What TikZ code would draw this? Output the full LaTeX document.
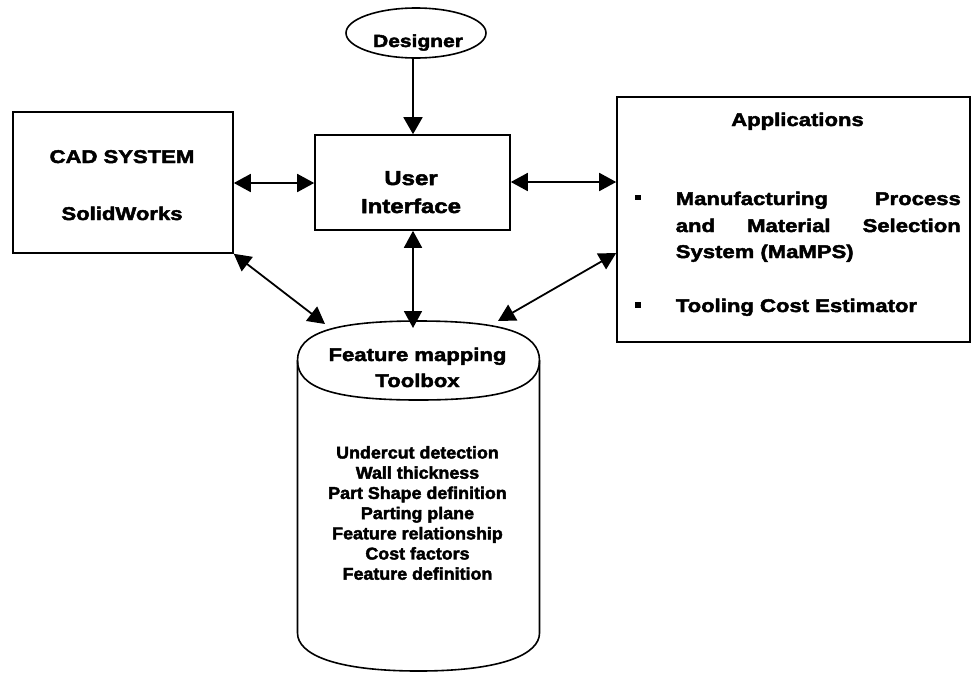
\documentclass[tikz,border=0pt]{standalone}
\usepackage{fontspec}
\newfontfamily\hv{Liberation Sans Bold}[FakeStretch=1.2,FakeBold=2.5]
\newfontfamily\listfont{Liberation Sans Bold}[FakeStretch=1.05,FakeBold=2.5]
\usetikzlibrary{arrows.meta,shapes.geometric}
\begin{document}
\begin{tikzpicture}[x=1pt,y=-1pt,line width=1.6pt,
  box/.style={draw,rectangle,inner sep=0pt},
  lbl/.style={anchor=base,inner sep=0pt,font=\hv\fontsize{18.4}{22}\selectfont},
  lblw/.style={anchor=base west,inner sep=0pt,font=\hv\fontsize{18.4}{22}\selectfont},
  biarr/.style={{Triangle[length=17pt,width=18pt]}-{Triangle[length=17pt,width=18pt]},line width=1.8pt},
  onearr/.style={-{Triangle[length=17pt,width=19pt]},line width=1.8pt}]
\useasboundingbox (0,0) rectangle (972,673);
% boxes
\node[box,minimum width=220pt,minimum height=141pt] (cad) at (123,182.5) {};
\node[box,minimum width=195pt,minimum height=95pt] (ui) at (412.5,182.5) {};
\node[box,minimum width=353pt,minimum height=245pt] (app) at (793.5,219.5) {};
\node[draw,ellipse,minimum width=140pt,minimum height=50pt,inner sep=0pt] (des) at (416,33) {};
% cylinder
\node[minimum width=242pt,minimum height=350pt,inner sep=0pt] (cyl) at (418.5,496) {};
\draw (297.5,360.5) .. controls (297.5,333) and (334,321) .. (418.5,321)
      .. controls (503,321) and (539.5,333) .. (539.5,360.5)
      .. controls (539.5,388) and (503,400) .. (418.5,400)
      .. controls (334,400) and (297.5,388) .. cycle;
\draw (297.5,360.5) -- (297.5,633) .. controls (297.5,654) and (334,671) .. (418.5,671)
      .. controls (503,671) and (539.5,654) .. (539.5,633) -- (539.5,360.5);
% texts
\node[lbl] (cadt1) at (122,163) {CAD SYSTEM};
\node[lbl] (cadt2) at (122,220) {SolidWorks};
\node[lbl,font=\hv\fontsize{17.5}{22}\selectfont] (dest) at (418,47) {Designer};
\node[lbl,font=\hv\fontsize{20}{22}\selectfont] (uit1) at (411,185) {User};
\node[lbl,font=\hv\fontsize{20}{22}\selectfont] (uit2) at (411,213) {Interface};
\node[lbl] (appt) at (797.5,126) {Applications};
\node[lblw] (appl1) at (675,205) {\makebox[285pt][s]{Manufacturing\hfill Process}};
\node[lblw] (appl2) at (675,232) {\makebox[285pt][s]{and\hfill Material\hfill Selection}};
\node[lblw] (appl3) at (675,258) {System (MaMPS)};
\node[lblw] (appl4) at (675,312) {Tooling Cost Estimator};
\fill (635,194.5) rectangle +(5.5,5.5);
\fill (635,302) rectangle +(5.5,5.5);
\node[lbl] (fmt1) at (417.5,361) {Feature mapping};
\node[lbl] (fmt2) at (417.5,387) {Toolbox};
\node[inner sep=0pt,align=center,font=\listfont\fontsize{17}{20.2}\selectfont] (list) at (417.5,513)
  {Undercut detection\\Wall thickness\\Part Shape definition\\Parting plane\\Feature relationship\\Cost factors\\Feature definition};
% connectors
\coordinate (ya) at (0,183);
\coordinate (yb) at (0,182);
\coordinate (yc) at (0,253);
\coordinate (xv) at (413,0);
\coordinate (cylA) at (325,324);
\coordinate (cylV) at (413,328);
\coordinate (cylB) at (498,321);
\draw[onearr] (des.south -| xv) -- (ui.north -| xv);
\draw[biarr] (cad.east |- ya) -- (ui.west |- ya);
\draw[biarr] (ui.east |- yb) -- (app.west |- yb);
\draw[biarr] (ui.south -| xv) -- (cylV);
\draw[biarr] (cad.south east) -- (cylA);
\draw[biarr] (app.west |- yc) -- (cylB);
\end{tikzpicture}
\end{document}
